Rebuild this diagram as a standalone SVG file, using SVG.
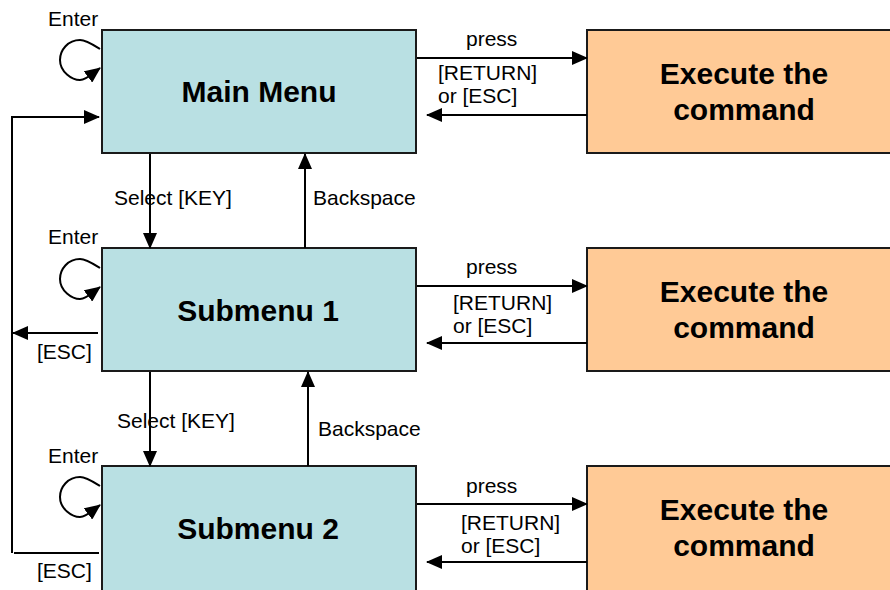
<svg xmlns="http://www.w3.org/2000/svg" width="890" height="590" viewBox="0 0 890 590">
<defs>
<marker id="ah" markerUnits="userSpaceOnUse" markerWidth="16" markerHeight="14" refX="15" refY="7" orient="auto">
<path d="M0,0 L16,7 L0,14 Z" fill="#000"/>
</marker>
<style>
.menu{fill:#B9E0E3;stroke:#1a1a1a;stroke-width:2}
.exec{fill:#FFCA96;stroke:#1a1a1a;stroke-width:2}
.big{font-family:"Liberation Sans",Arial,sans-serif;font-weight:bold;font-size:30px;text-anchor:middle;fill:#000}
.lbl{font-family:"Liberation Sans",Arial,sans-serif;font-size:21px;fill:#000}
.ln{fill:none;stroke:#000;stroke-width:2;marker-end:url(#ah)}
.pl{fill:none;stroke:#000;stroke-width:2}
</style>
</defs>
<rect width="890" height="590" fill="#fff"/>
<g id="main-menu">
<rect class="menu" x="102" y="30" width="314" height="123"/>
<text class="big" x="259" y="102">Main Menu</text>
</g>
<g id="submenu-1">
<rect class="menu" x="102" y="248" width="314" height="123"/>
<text class="big" x="258" y="321">Submenu 1</text>
</g>
<g id="submenu-2">
<rect class="menu" x="102" y="466" width="314" height="126"/>
<text class="big" x="258" y="539">Submenu 2</text>
</g>
<g id="execute-1">
<rect class="exec" x="587" y="30" width="306" height="123"/>
<text class="big" x="744" y="84">Execute the</text>
<text class="big" x="744" y="120">command</text>
</g>
<g id="execute-2">
<rect class="exec" x="587" y="248" width="306" height="123"/>
<text class="big" x="744" y="302">Execute the</text>
<text class="big" x="744" y="338">command</text>
</g>
<g id="execute-3">
<rect class="exec" x="587" y="466" width="306" height="126"/>
<text class="big" x="744" y="520">Execute the</text>
<text class="big" x="744" y="556">command</text>
</g>
<g id="connectors">
<path class="ln" d="M417,58 H587"/>
<path class="ln" d="M587,115 H427"/>
<path class="ln" d="M417,286 H587"/>
<path class="ln" d="M587,343 H427"/>
<path class="ln" d="M417,504 H587"/>
<path class="ln" d="M587,562 H427"/>
<path class="ln" d="M150,154 V248"/>
<path class="ln" d="M305,248 V154"/>
<path class="ln" d="M150,372 V466"/>
<path class="ln" d="M308,466 V372"/>
<path class="ln" d="M100,49 C92,44 86,40 80,40 C68,40 60,50 60,60 C60,72 72,80 80,80 C86,80 92,74 100,68"/>
<path class="ln" d="M100,268 C92,263 86,259 80,259 C68,259 60,269 60,279 C60,291 72,299 80,299 C86,299 92,293 100,287"/>
<path class="ln" d="M100,486 C92,481 86,477 80,477 C68,477 60,487 60,497 C60,509 72,517 80,517 C86,517 92,511 100,505"/>
<path class="pl" d="M99,553 H14"/>
<path class="ln" d="M12,553 V117 H99"/>
<path class="ln" d="M98,333 H13"/>
</g>
<g id="labels">
<text class="lbl" x="466" y="46">press</text>
<text class="lbl" x="438" y="80">[RETURN]</text>
<text class="lbl" x="438" y="103">or [ESC]</text>
<text class="lbl" x="466" y="274">press</text>
<text class="lbl" x="453" y="310">[RETURN]</text>
<text class="lbl" x="453" y="333">or [ESC]</text>
<text class="lbl" x="466" y="493">press</text>
<text class="lbl" x="461" y="530">[RETURN]</text>
<text class="lbl" x="461" y="553">or [ESC]</text>
<text class="lbl" x="48" y="26">Enter</text>
<text class="lbl" x="48" y="244">Enter</text>
<text class="lbl" x="48" y="463">Enter</text>
<text class="lbl" x="114" y="205">Select [KEY]</text>
<text class="lbl" x="313" y="205">Backspace</text>
<text class="lbl" x="117" y="428">Select [KEY]</text>
<text class="lbl" x="318" y="436">Backspace</text>
<text class="lbl" x="37" y="359">[ESC]</text>
<text class="lbl" x="37" y="578">[ESC]</text>
</g>
</svg>
